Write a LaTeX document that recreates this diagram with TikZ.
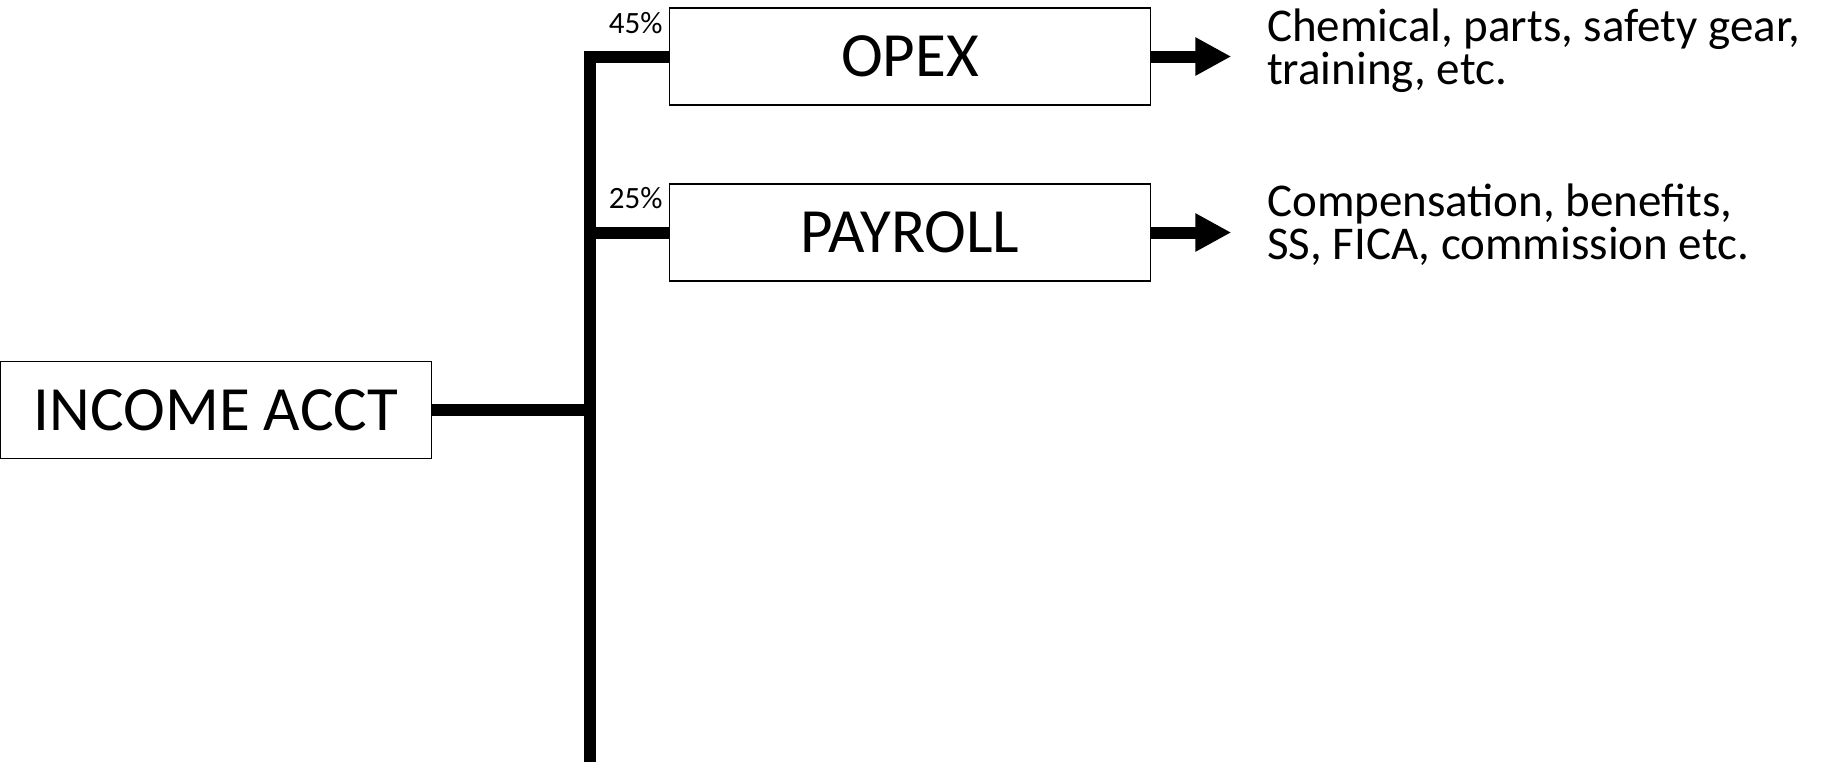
\documentclass[tikz,border=0pt]{standalone}
\usepackage{fontspec}
\setmainfont{Carlito}
\usetikzlibrary{arrows.meta,positioning}

\tikzset{
  acct/.style={draw, line width=1.5pt, inner sep=0pt, minimum height=97pt,
    font=\fontsize{63}{72}\selectfont},
  pct/.style={inner sep=0pt, anchor=east, font=\fontsize{31}{36}\selectfont},
  note/.style={inner sep=0pt, anchor=west, align=left,
    font=\fontsize{47}{43}\selectfont},
  bus/.style={line width=12pt},
  flowarrow/.style={line width=12pt, -{Triangle[length=36pt,width=36pt]}},
}

\begin{document}
\begin{tikzpicture}[x=1pt,y=-1pt]
			\useasboundingbox (0,0) rectangle (1831,761);

			% Definisci i nodi
			\node[acct, minimum width=431pt] (income) at (216,410) {INCOME ACCT};
			\node[acct, minimum width=481pt] (opex) at (910,56.5) {OPEX};
			\node[acct, minimum width=481pt] (payroll) at (910,232.5) {PAYROLL};

			\node[pct] (opexpct) at ([xshift=-6pt,yshift=-16pt]opex.north west) {45\%};
			\node[pct] (payrollpct) at ([xshift=-6pt,yshift=-15pt]payroll.north west) {25\%};

			\node[note] (opexnote) at (1267,51) {Chemical, parts, safety gear,\\training, etc.};
			\node[note] (payrollnote) at (1267,225) {Compensation, benefits,\\SS, FICA, commission etc.};

			\coordinate (trunkbot) at (590,775);
			\coordinate (opexend) at ([xshift=80pt]opex.east);
			\coordinate (payrollend) at ([xshift=80pt]payroll.east);

			% Collega i nodi
			\draw[bus] (opex.west) -| (trunkbot);
			\draw[bus] (payroll.west) -- (payroll.west -| trunkbot);
			\draw[bus] (income.east) -- (income.east -| trunkbot);
			\draw[flowarrow] (opex.east) -- (opexend);
			\draw[flowarrow] (payroll.east) -- (payrollend);
		\end{tikzpicture}
\end{document}
